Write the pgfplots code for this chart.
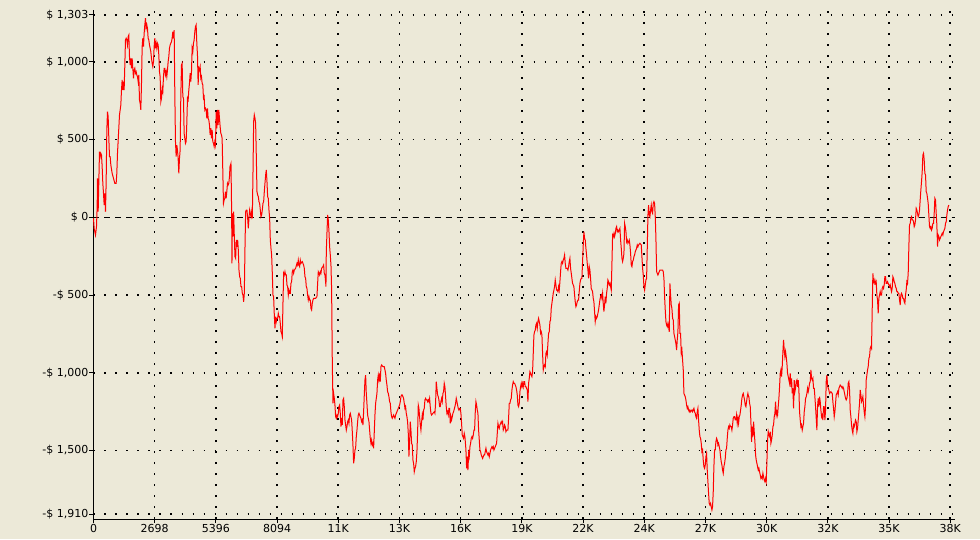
\documentclass[border=0pt]{standalone}
\usepackage{pgfplots}
\pgfplotsset{compat=1.18}
\usepackage{fontspec}
\setmainfont{DejaVu Sans}
\definecolor{bgc}{RGB}{236,233,216}
\pgfplotstableread{
x y
0 -6
29 -71
88 -114
132 -60
162 69
176 251
206 36
235 230
264 423
294 390
323 412
353 401
382 326
411 219
441 154
470 79
499 154
529 36
558 230
588 562
617 680
646 648
676 508
705 390
735 390
764 337
823 283
881 251
940 219
999 219
1028 283
1058 412
1116 573
1146 659
1205 723
1234 819
1263 884
1293 819
1322 873
1351 819
1381 980
1410 1141
1440 1152
1469 1141
1498 1109
1528 1163
1557 1173
1587 1034
1616 980
1645 1023
1675 959
1704 1023
1734 959
1763 894
1792 948
1822 959
1851 927
1880 937
1910 916
1939 905
1969 873
1998 916
2027 755
2057 734
2086 691
2116 862
2145 1098
2174 1152
2204 1098
2233 1184
2262 1238
2292 1281
2321 1216
2351 1238
2380 1216
2409 1152
2439 1141
2468 1109
2498 1088
2527 1066
2556 1023
2586 991
2615 970
2645 1002
2674 1098
2703 1152
2733 1088
2762 1120
2791 1088
2821 1120
2850 1109
2880 1045
2909 937
2938 905
2968 744
2997 766
3027 830
3056 809
3085 905
3115 959
3144 959
3174 916
3203 937
3232 905
3262 948
3291 1002
3320 1034
3350 1088
3379 1109
3409 1120
3438 1130
3467 1152
3497 1195
3526 1152
3556 1205
3585 798
3614 487
3644 390
3673 465
3702 433
3732 380
3761 283
3791 380
3820 433
3849 776
3879 980
3908 991
3938 776
3967 766
3996 541
4026 508
4055 476
4084 487
4114 605
4143 766
4173 755
4202 819
4231 862
4261 927
4290 873
4320 937
4349 1088
4378 1066
4408 1120
4437 1141
4467 1195
4496 1227
4525 1238
4555 1120
4584 1045
4613 852
4643 959
4672 948
4702 970
4731 894
4760 905
4790 862
4819 852
4849 766
4878 776
4907 691
4937 701
4966 691
4996 637
5025 701
5054 637
5084 626
5113 594
5142 530
5172 573
5201 508
5231 562
5260 487
5289 476
5319 455
5348 487
5378 465
5407 680
5436 573
5466 691
5495 594
5525 691
5554 637
5583 583
5613 541
5642 530
5671 508
5701 294
5730 90
5760 112
5789 122
5818 165
5848 122
5877 165
5907 219
5936 208
5965 219
5995 262
6017 326
6061 347
6090 36
6105 -296
6120 26
6149 -124
6179 36
6208 -124
6237 -253
6267 -264
6296 -146
6325 -189
6355 -146
6384 -210
6414 -339
6443 -382
6472 -393
6502 -446
6531 -446
6561 -489
6590 -500
6619 -543
6649 -489
6678 -199
6707 36
6737 47
6766 47
6796 -6
6825 -71
6854 -6
6884 47
6913 26
6943 4
6972 36
7001 -6
7031 283
7060 616
7089 659
7119 637
7148 605
7178 390
7207 165
7236 144
7266 133
7295 101
7324 90
7354 47
7383 4
7413 15
7442 47
7471 90
7501 101
7530 165
7559 219
7589 272
7618 305
7648 230
7677 133
7706 122
7736 47
7765 -6
7795 -146
7824 -199
7853 -242
7883 -360
7912 -500
7941 -511
7971 -628
8000 -714
8030 -639
8059 -671
8088 -650
8118 -650
8147 -618
8176 -639
8206 -639
8235 -682
8265 -736
8294 -746
8323 -768
8353 -553
8382 -360
8411 -371
8441 -350
8470 -371
8500 -371
8529 -435
8558 -446
8588 -500
8617 -468
8647 -489
8676 -489
8705 -425
8735 -414
8764 -350
8793 -339
8823 -360
8852 -339
8911 -328
8970 -296
8999 -307
9028 -275
9058 -307
9087 -317
9117 -275
9146 -296
9205 -285
9263 -307
9293 -328
9322 -382
9352 -393
9381 -446
9410 -457
9440 -500
9469 -532
9499 -511
9528 -532
9557 -532
9587 -586
9616 -596
9645 -553
9675 -532
9704 -521
9792 -521
9851 -511
9881 -425
9910 -350
9939 -360
9969 -371
9998 -350
10027 -360
10057 -328
10115 -317
10145 -307
10174 -360
10204 -371
10233 -414
10248 -446
10263 -221
10292 -103
10322 15
10351 -17
10381 -92
10410 -189
10439 -242
10469 -307
10498 -468
10528 -940
10557 -1197
10586 -1133
10616 -1165
10645 -1208
10674 -1283
10704 -1293
10733 -1272
10763 -1283
10792 -1261
10821 -1218
10851 -1208
10880 -1261
10909 -1347
10939 -1293
10968 -1336
10998 -1175
11027 -1165
11056 -1218
11086 -1304
11115 -1336
11145 -1369
11174 -1347
11203 -1315
11233 -1304
11262 -1326
11291 -1272
11321 -1261
11350 -1283
11380 -1304
11409 -1379
11438 -1465
11468 -1583
11497 -1551
11527 -1497
11556 -1486
11585 -1411
11615 -1369
11644 -1315
11673 -1272
11703 -1261
11732 -1272
11762 -1283
11791 -1293
11820 -1315
11850 -1304
11879 -1336
11908 -1251
11938 -1143
11967 -1047
11997 -1015
12026 -1133
12055 -1197
12085 -1272
12114 -1293
12144 -1315
12173 -1369
12202 -1422
12232 -1454
12261 -1433
12290 -1465
12320 -1454
12349 -1486
12379 -1379
12408 -1272
12437 -1197
12467 -1165
12496 -1133
12526 -1047
12555 -1015
12584 -1047
12614 -1004
12643 -1057
12672 -961
12702 -950
12761 -961
12819 -961
12849 -982
12878 -1004
12907 -1047
12937 -1079
12966 -1122
12996 -1133
13025 -1154
13054 -1186
13084 -1197
13113 -1251
13142 -1283
13172 -1293
13201 -1283
13231 -1272
13260 -1283
13289 -1293
13319 -1272
13377 -1251
13436 -1229
13495 -1208
13524 -1186
13554 -1154
13583 -1143
13612 -1143
13642 -1154
13671 -1165
13701 -1197
13730 -1229
13759 -1218
13789 -1261
13818 -1283
13847 -1315
13877 -1390
13906 -1540
13936 -1444
13965 -1315
13994 -1369
14024 -1454
14053 -1465
14083 -1562
14112 -1583
14141 -1637
14171 -1615
14200 -1604
14229 -1572
14259 -1508
14288 -1390
14318 -1208
14347 -1229
14376 -1283
14406 -1336
14435 -1369
14465 -1315
14494 -1272
14523 -1304
14553 -1240
14582 -1229
14611 -1175
14641 -1165
14670 -1175
14700 -1175
14729 -1186
14758 -1175
14788 -1186
14817 -1165
14846 -1218
14876 -1261
14905 -1272
14964 -1261
15023 -1251
15052 -1261
15081 -1197
15111 -1057
15140 -1100
15170 -1143
15199 -1154
15228 -1175
15258 -1218
15287 -1218
15316 -1186
15346 -1165
15375 -1186
15405 -1133
15434 -1122
15463 -1068
15493 -1090
15522 -1154
15551 -1218
15581 -1261
15610 -1251
15640 -1272
15669 -1229
15698 -1229
15728 -1326
15757 -1283
15786 -1304
15816 -1283
15845 -1261
15875 -1251
15933 -1218
15963 -1197
15992 -1165
16022 -1186
16051 -1208
16080 -1229
16110 -1240
16139 -1229
16168 -1229
16198 -1261
16227 -1326
16257 -1401
16286 -1411
16315 -1422
16345 -1390
16374 -1411
16403 -1465
16419 -1497
16449 -1615
16478 -1540
16508 -1626
16537 -1519
16566 -1540
16596 -1476
16625 -1454
16654 -1422
16684 -1411
16713 -1422
16743 -1401
16772 -1369
16801 -1369
16831 -1251
16860 -1186
16890 -1208
16919 -1240
16948 -1261
16978 -1369
17007 -1433
17036 -1497
17066 -1508
17095 -1529
17125 -1540
17154 -1551
17183 -1540
17213 -1529
17242 -1529
17271 -1508
17301 -1486
17330 -1508
17360 -1519
17389 -1529
17418 -1519
17448 -1540
17477 -1519
17506 -1497
17536 -1486
17565 -1476
17595 -1486
17624 -1476
17653 -1497
17683 -1486
17741 -1465
17771 -1454
17800 -1390
17830 -1326
17859 -1347
17888 -1358
17918 -1336
17947 -1326
17977 -1315
18006 -1326
18035 -1315
18065 -1369
18094 -1358
18123 -1336
18153 -1347
18182 -1379
18212 -1369
18270 -1369
18300 -1293
18329 -1197
18358 -1197
18388 -1175
18417 -1165
18447 -1111
18476 -1079
18505 -1057
18535 -1068
18564 -1068
18594 -1079
18623 -1090
18652 -1111
18682 -1143
18711 -1208
18740 -1218
18770 -1197
18799 -1122
18829 -1090
18858 -1068
18887 -1090
18917 -1068
18946 -1090
18975 -1057
19005 -1057
19034 -1090
19064 -1090
19093 -1100
19122 -1111
19152 -1186
19181 -1068
19211 -1036
19240 -993
19269 -1004
19299 -1015
19328 -1025
19357 -993
19387 -875
19416 -757
19446 -736
19475 -725
19504 -693
19534 -682
19563 -714
19592 -671
19622 -650
19651 -671
19681 -693
19710 -746
19739 -736
19769 -757
19798 -875
19828 -982
19857 -961
19886 -950
19916 -961
19945 -875
19974 -864
20004 -886
20033 -811
20063 -746
20092 -736
20121 -671
20151 -661
20180 -586
20209 -553
20239 -521
20268 -489
20298 -468
20327 -446
20356 -403
20386 -435
20415 -468
20444 -468
20474 -478
20503 -446
20533 -468
20562 -414
20591 -350
20621 -296
20650 -285
20680 -296
20709 -275
20738 -264
20768 -242
20797 -296
20826 -328
20885 -328
20915 -339
20944 -317
20974 -285
21003 -264
21032 -328
21062 -360
21091 -393
21120 -425
21150 -435
21179 -446
21209 -500
21238 -543
21267 -575
21297 -564
21326 -543
21355 -532
21385 -532
21414 -478
21444 -425
21473 -403
21502 -393
21532 -393
21561 -285
21591 -178
21620 -92
21649 -135
21679 -146
21708 -199
21737 -242
21767 -296
21796 -339
21826 -393
21855 -317
21884 -339
21914 -393
21943 -457
21973 -468
22002 -478
22031 -521
22061 -543
22090 -607
22119 -671
22149 -639
22178 -650
22208 -639
22237 -618
22266 -596
22296 -564
22325 -532
22354 -511
22384 -500
22413 -521
22443 -489
22472 -553
22501 -607
22531 -564
22560 -511
22589 -553
22619 -489
22648 -457
22678 -403
22707 -414
22736 -435
22768 -425
22797 -446
22826 -468
22856 -296
22885 -114
22915 -124
22944 -103
22973 -124
23003 -103
23032 -71
23062 -60
23091 -92
23120 -82
23150 -92
23179 -82
23208 -71
23238 -146
23267 -199
23297 -264
23326 -285
23355 -264
23385 -232
23414 -39
23443 -60
23473 -92
23502 -157
23532 -146
23561 -167
23590 -157
23620 -146
23649 -178
23679 -232
23708 -307
23737 -317
23767 -285
23796 -275
23825 -253
23855 -242
23884 -221
23914 -210
23943 -199
23972 -178
24002 -189
24031 -178
24090 -167
24149 -178
24178 -253
24207 -328
24237 -371
24266 -446
24296 -468
24325 -435
24354 -403
24384 -393
24413 -199
24443 15
24472 79
24501 15
24531 4
24560 47
24589 79
24619 36
24648 26
24678 90
24707 101
24736 90
24766 4
24795 -135
24825 -350
24854 -360
24883 -371
24913 -360
24942 -350
24971 -339
25030 -339
25089 -339
25118 -350
25148 -393
25177 -511
25206 -596
25236 -671
25265 -693
25294 -704
25324 -682
25353 -704
25383 -736
25412 -425
25441 -500
25471 -564
25500 -586
25530 -650
25559 -661
25588 -746
25618 -768
25647 -789
25676 -811
25706 -854
25735 -789
25765 -736
25794 -564
25823 -553
25853 -746
25882 -746
25911 -875
25941 -854
25970 -918
26000 -982
26029 -1133
26058 -1143
26088 -1154
26117 -1175
26147 -1208
26176 -1229
26205 -1218
26235 -1240
26264 -1251
26293 -1240
26323 -1251
26382 -1240
26411 -1251
26440 -1240
26470 -1229
26499 -1251
26529 -1261
26558 -1283
26587 -1293
26617 -1251
26646 -1229
26675 -1304
26705 -1369
26734 -1411
26764 -1422
26793 -1454
26822 -1508
26852 -1497
26881 -1562
26910 -1604
26940 -1615
26969 -1594
26999 -1540
27028 -1519
27057 -1626
27087 -1701
27116 -1776
27145 -1840
27175 -1851
27204 -1840
27234 -1862
27263 -1883
27292 -1862
27322 -1765
27351 -1604
27381 -1497
27410 -1497
27439 -1444
27469 -1422
27498 -1433
27527 -1465
27557 -1454
27586 -1476
27616 -1497
27645 -1540
27674 -1572
27704 -1594
27733 -1626
27763 -1647
27792 -1604
27821 -1583
27851 -1551
27880 -1497
27910 -1486
27939 -1422
27968 -1369
27998 -1347
28027 -1358
28056 -1336
28086 -1347
28115 -1347
28145 -1369
28174 -1336
28203 -1293
28233 -1283
28262 -1283
28292 -1304
28321 -1304
28350 -1272
28380 -1326
28409 -1293
28438 -1326
28468 -1283
28497 -1272
28527 -1240
28556 -1208
28585 -1165
28615 -1143
28644 -1133
28674 -1154
28703 -1175
28732 -1208
28762 -1218
28791 -1186
28820 -1154
28850 -1133
28879 -1154
28894 -1154
28924 -1197
28953 -1218
28982 -1315
29012 -1444
29041 -1347
29071 -1411
29100 -1315
29129 -1379
29159 -1444
29188 -1529
29217 -1562
29247 -1583
29276 -1604
29306 -1626
29335 -1615
29364 -1637
29394 -1658
29423 -1680
29453 -1669
29482 -1680
29511 -1647
29541 -1669
29570 -1690
29599 -1701
29629 -1680
29658 -1701
29688 -1572
29717 -1433
29746 -1379
29776 -1401
29805 -1411
29834 -1379
29864 -1454
29893 -1433
29923 -1401
29952 -1347
29981 -1336
30011 -1283
30040 -1261
30069 -1186
30099 -1272
30128 -1251
30158 -1272
30187 -1218
30216 -1165
30246 -1090
30275 -1004
30305 -982
30334 -1025
30363 -961
30393 -864
30422 -789
30451 -854
30481 -897
30510 -864
30540 -897
30569 -940
30598 -1004
30628 -1025
30657 -1047
30686 -1068
30716 -1004
30745 -1090
30775 -1036
30804 -1133
30833 -1100
30863 -1229
30892 -1047
30922 -1122
30951 -1100
30980 -1057
31010 -1047
31039 -1090
31068 -1047
31098 -1111
31127 -1251
31157 -1304
31186 -1347
31215 -1336
31245 -1369
31274 -1347
31303 -1326
31333 -1251
31362 -1218
31392 -1165
31421 -1154
31450 -1133
31480 -1100
31509 -1122
31538 -1100
31568 -1068
31597 -1057
31627 -982
31656 -1036
31685 -1047
31715 -1036
31744 -1100
31774 -1100
31803 -1154
31832 -1218
31862 -1293
31891 -1369
31920 -1218
31950 -1165
31979 -1218
32009 -1154
32038 -1186
32067 -1240
32097 -1283
32126 -1272
32155 -1304
32185 -1218
32214 -1218
32244 -1304
32273 -1240
32302 -1057
32332 -1015
32361 -1079
32391 -1100
32420 -1111
32449 -1133
32508 -1122
32567 -1133
32596 -1186
32626 -1229
32655 -1283
32684 -1251
32714 -1197
32743 -1143
32772 -1133
32802 -1122
32831 -1143
32861 -1100
32890 -1090
32919 -1079
32978 -1090
33008 -1100
33037 -1090
33066 -1100
33096 -1122
33125 -1143
33154 -1165
33184 -1175
33213 -1165
33243 -1133
33272 -1068
33301 -1057
33331 -1111
33360 -1240
33390 -1283
33419 -1336
33448 -1369
33478 -1390
33507 -1336
33536 -1347
33566 -1326
33595 -1304
33625 -1315
33654 -1379
33683 -1358
33713 -1304
33742 -1251
33771 -1197
33801 -1111
33830 -1143
33860 -1186
33889 -1175
33918 -1154
33948 -1208
33977 -1251
34007 -1283
34036 -1218
34065 -1047
34095 -1015
34124 -982
34153 -961
34183 -907
34212 -897
34242 -843
34271 -832
34300 -843
34330 -596
34359 -360
34388 -414
34418 -425
34447 -403
34477 -425
34506 -414
34535 -500
34565 -532
34594 -618
34623 -521
34653 -500
34682 -478
34712 -500
34741 -500
34770 -457
34800 -446
34829 -457
34859 -435
34888 -382
34917 -382
34947 -425
34976 -425
35006 -414
35035 -425
35064 -435
35094 -446
35123 -435
35152 -457
35182 -478
35211 -457
35241 -382
35270 -393
35299 -414
35329 -425
35358 -446
35388 -457
35417 -478
35446 -478
35476 -489
35505 -489
35535 -532
35564 -564
35593 -500
35623 -489
35652 -500
35681 -521
35711 -521
35740 -543
35770 -553
35799 -500
35828 -468
35858 -414
35887 -425
35917 -360
35946 -189
35975 -49
36005 -39
36034 -6
36063 4
36093 -17
36122 -17
36152 -28
36181 -60
36210 -49
36240 -17
36269 58
36299 47
36328 26
36357 4
36387 15
36416 47
36445 112
36475 176
36504 230
36534 294
36563 401
36592 412
36622 369
36651 283
36681 272
36710 165
36739 154
36769 122
36798 90
36827 15
36857 -60
36886 -71
36916 -60
36945 -82
36974 -71
37004 -39
37033 -39
37063 26
37092 122
37121 112
37151 26
37180 -49
37210 -189
37239 -114
37268 -124
37298 -146
37327 -135
37356 -124
37386 -114
37415 -103
37445 -114
37474 -92
37503 -82
37533 -71
37562 -39
37592 -28
37621 15
37650 47
37680 69
37709 79
}\equity
\begin{document}
\begin{tikzpicture}
\fill[bgc] (-93.5pt,-20pt) rectangle (886.5pt,519pt);
\begin{axis}[
  at={(0pt,0pt)}, anchor=south west,
  scale only axis, width=861.5pt, height=509pt,
  xmin=0, xmax=37980, ymin=-1941, ymax=1334,
  axis x line=bottom, axis y line=left,
  axis line style={-, black, line width=1pt},
  x axis line style={-}, y axis line style={-},
  tick align=outside, major tick length=4pt,
  tick style={black, line width=1pt},
  xtick pos=bottom, ytick pos=left,
  xtick={0,2698,5396,8094,10792,13490,16188,18886,21584,24282,26980,29678,32376,35074,37772},
  xticklabels={0,2698,5396,8094,11K,13K,16K,19K,22K,24K,27K,30K,32K,35K,38K},
  ytick={-1910,-1500,-1000,-500,500,1000,1303},
  yticklabels={{-\$ 1,910},{-\$ 1,500},{-\$ 1,000},{-\$ 500},{\$ 500},{\$ 1,000},{\$ 1,303}},
  xmajorgrids=true, ymajorgrids=true,
  major grid style={black, line width=1.6pt, dash pattern=on 1.6pt off 9.4pt},
  extra y ticks={0},
  extra y tick labels={{\$ 0}},
  extra y tick style={xmajorgrids=false, ymajorgrids=true, major grid style={black, line width=1.3pt, dash pattern=on 6pt off 5pt}},
  scaled x ticks=false, scaled y ticks=false,
  /pgf/number format/assume math mode=true,
  ticklabel style={font=\fontsize{11}{13}\selectfont, text=black},
  yticklabel style={inner sep=1pt},
  xticklabel style={inner sep=1.5pt},
  clip=false,
]
\addplot[red, line width=1pt, mark=none] table[x=x, y=y] {\equity};
\end{axis}
\pgfresetboundingbox
\path[use as bounding box] (-93.5pt,-20pt) rectangle (886.5pt,519pt);
\end{tikzpicture}
\end{document}
